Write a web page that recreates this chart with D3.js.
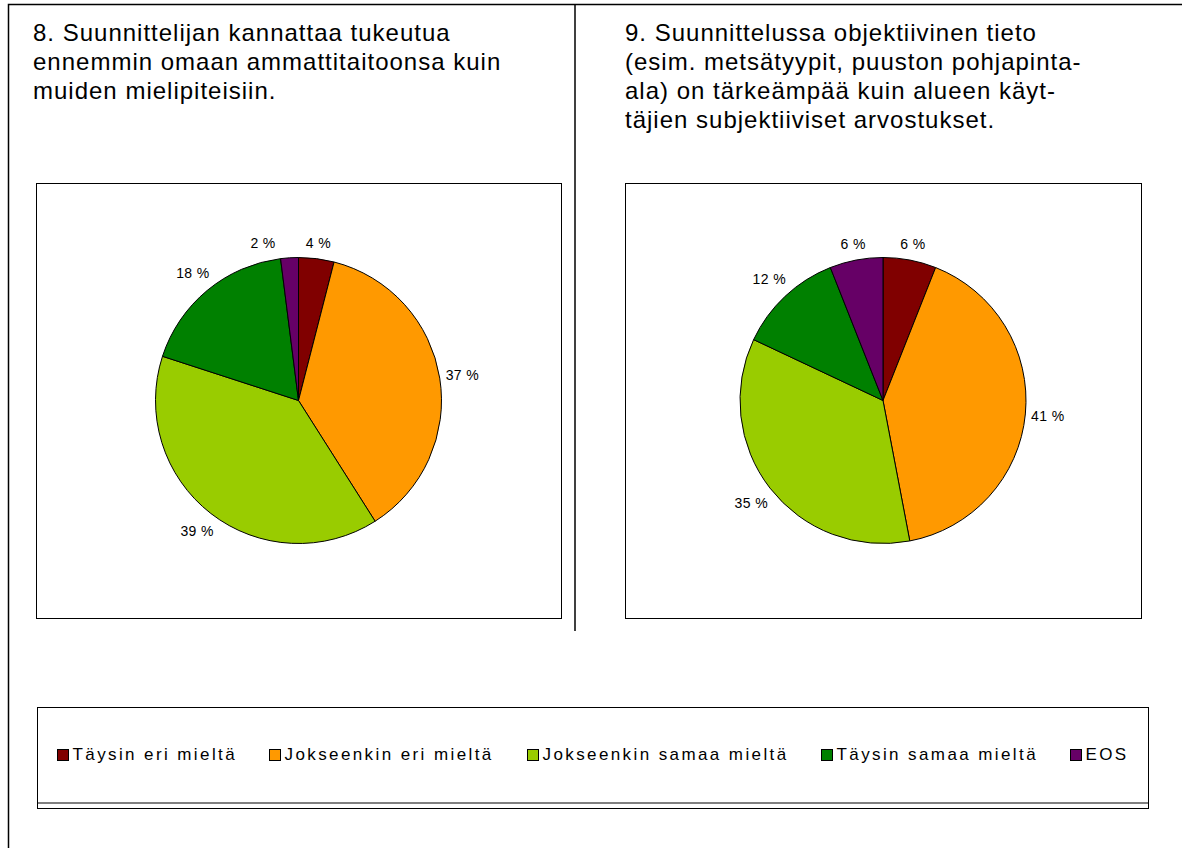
<!DOCTYPE html>
<html>
<head>
    <meta charset="utf-8">
    <title>Suunnittelijan kysely</title>
    <style>
        body { margin: 0; background: #fff; }
        svg { display: block; }
        text { font-family: Arial, "Liberation Sans", sans-serif; fill: #000; }
        .title { font-size: 24px; letter-spacing: 1px; }
        .plabel { font-size: 14px; letter-spacing: 0.4px; }
        .leg { font-size: 17px; letter-spacing: 2.4px; }
        .frame { fill: none; stroke: #000; stroke-width: 1.5px; }
        .box { fill: #fff; stroke: #000; stroke-width: 1px; }
        .slice { stroke: #000; stroke-width: 1px; }
    </style>
</head>
<body>
    <svg width="1182" height="848"></svg>

    <script src="https://cdn.jsdelivr.net/npm/d3@7"></script>
    <script>
        // Luokat ja värit
        var categories = ["Täysin eri mieltä", "Jokseenkin eri mieltä", "Jokseenkin samaa mieltä", "Täysin samaa mieltä", "EOS"];
        var colors = ["#800000", "#FF9900", "#99CC00", "#008000", "#660066"];

        // Kysymysten otsikot
        var title8 = ["8. Suunnittelijan kannattaa tukeutua",
                      "ennemmin omaan ammattitaitoonsa kuin",
                      "muiden mielipiteisiin."];
        var title9 = ["9. Suunnittelussa objektiivinen tieto",
                      "(esim. metsätyypit, puuston pohjapinta-",
                      "ala) on tärkeämpää kuin alueen käyt-",
                      "täjien subjektiiviset arvostukset."];

        // Prosentit (%)
        var values8 = [4, 37, 39, 18, 2];
        var values9 = [6, 41, 35, 12, 6];

        var svg = d3.select("svg");

        // ulkokehys ja pystyviiva
        svg.append("path").attr("class", "frame")
            .attr("d", "M8.5,848V4.5H1182");
        svg.append("line").attr("class", "frame")
            .attr("x1", 575).attr("x2", 575).attr("y1", 4).attr("y2", 631);

        var color = d3.scaleOrdinal().domain(categories).range(colors);

        function drawChart(opts) {
            var g = svg.append("g");

            // otsikko
            g.append("text").attr("class", "title")
                .selectAll("tspan")
                .data(opts.title)
                .enter().append("tspan")
                .attr("x", opts.titleX)
                .attr("y", function(d, i) { return 41 + i * 29; })
                .text(function(d) { return d; });

            // kuvaajan laatikko
            g.append("rect").attr("class", "box")
                .attr("x", opts.x0 + 0.5).attr("y", opts.y0 + 0.5)
                .attr("width", opts.x1 - opts.x0).attr("height", opts.y1 - opts.y0);

            var cx = (opts.x0 + opts.x1) / 2,
                cy = (opts.y0 + opts.y1) / 2,
                r = 143;

            var data = categories.map(function(c, i) { return { cat: c, value: opts.values[i] }; });
            var pie = d3.pie().sort(null).value(function(d) { return d.value; });
            var arcs = pie(data);
            var arc = d3.arc().innerRadius(0).outerRadius(r);

            var pg = g.append("g").attr("transform", "translate(" + cx + "," + cy + ")");
            pg.selectAll("path")
                .data(arcs)
                .enter().append("path")
                .attr("class", "slice")
                .attr("fill", function(d) { return color(d.data.cat); })
                .attr("d", arc);

            // arvot piirakan ulkopuolelle
            var labels = pg.selectAll("text")
                .data(arcs)
                .enter().append("text")
                .attr("class", "plabel")
                .attr("text-anchor", "middle")
                .text(function(d) { return d.data.value + " %"; });

            var pos = [];
            labels.each(function(d) {
                var bb = this.getBBox();
                var a = (d.startAngle + d.endAngle) / 2;
                var ux = Math.sin(a), uy = -Math.cos(a);
                var dist = r + 5 + Math.abs(ux) * bb.width / 2 + Math.abs(uy) * 9;
                pos.push({ x: ux * dist, y: uy * dist, w: bb.width, v: d.data.value });
            });

            // vierekkäiset pienet arvot erilleen
            var minGap = 30;
            for (var i = 0; i < pos.length; i++) {
                var p = pos[i], q = pos[(i + 1) % pos.length];
                if (Math.abs(p.y - q.y) > 12) continue;
                var left = p.x < q.x ? p : q, right = left === p ? q : p;
                var gap = (right.x - right.w / 2) - (left.x + left.w / 2);
                if (gap < minGap) {
                    var mover = p.v <= q.v ? p : q;
                    var shift = minGap - gap;
                    mover.x += (mover === left ? -shift : shift);
                }
            }

            labels
                .attr("x", function(d, i) { return pos[i].x; })
                .attr("y", function(d, i) { return pos[i].y + 5; });
        }

        drawChart({ title: title8, titleX: 33, values: values8, x0: 36, x1: 561, y0: 183, y1: 618 });
        drawChart({ title: title9, titleX: 625, values: values9, x0: 625, x1: 1141, y0: 183, y1: 618 });

        // selite
        var lg = svg.append("g");
        lg.append("rect").attr("class", "box")
            .attr("x", 37.5).attr("y", 707.5).attr("width", 1111).attr("height", 101);
        lg.append("line")
            .attr("x1", 38).attr("x2", 1148).attr("y1", 803).attr("y2", 803)
            .attr("stroke", "#808080").attr("stroke-width", 2);

        var items = lg.selectAll("g.item")
            .data(categories)
            .enter().append("g")
            .attr("class", "item");

        items.append("rect")
            .attr("width", 11).attr("height", 11)
            .attr("y", 749.5)
            .attr("fill", function(d) { return color(d); })
            .attr("stroke", "#000").attr("stroke-width", 1);

        items.append("text")
            .attr("class", "leg")
            .attr("x", 15)
            .attr("y", 760)
            .text(function(d) { return d; });

        // asettele rivi keskelle
        var widths = [];
        items.each(function() {
            widths.push(15 + d3.select(this).select("text").node().getComputedTextLength());
        });
        var spacing = 33;
        var total = d3.sum(widths) + spacing * (widths.length - 1);
        var xStart = (37 + 1148) / 2 - total / 2;
        var acc = xStart;
        items.attr("transform", function(d, i) {
            var t = "translate(" + Math.round(acc) + ".5,0)";
            acc += widths[i] + spacing;
            return t;
        });
    </script>
</body>
</html>
